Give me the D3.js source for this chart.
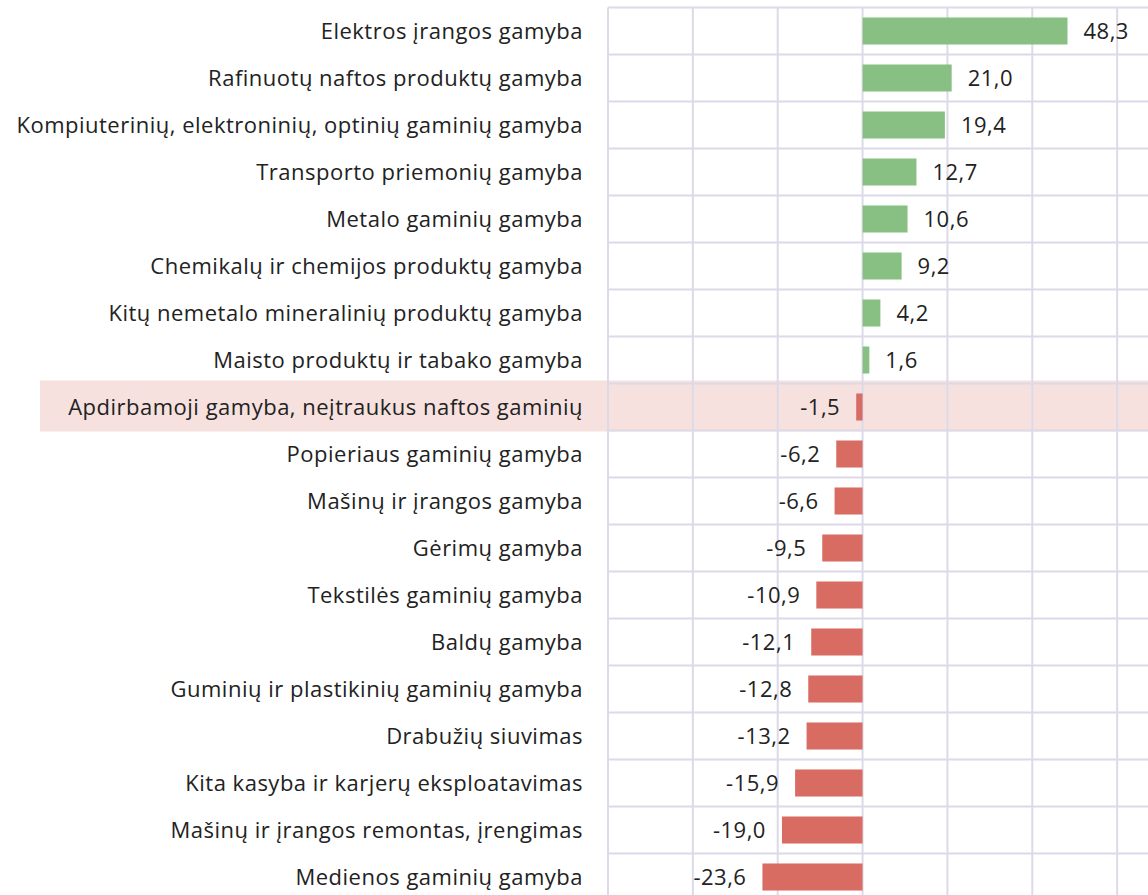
<!DOCTYPE html>
<html>
<head>
<meta charset="utf-8">
<script src="https://cdn.jsdelivr.net/npm/d3@7"></script>
<style>
  html, body { margin: 0; padding: 0; background: #fff; }
  svg { display: block; }
  text { font-family: "Open Sans", "Noto Sans", sans-serif; fill: #222; letter-spacing: 0.5px; }
</style>
</head>
<body>
<svg id="chart" width="1148" height="895"></svg>
<script>
// categories, top to bottom
var categories = [
  'Elektros įrangos gamyba',
  'Rafinuotų naftos produktų gamyba',
  'Kompiuterinių, elektroninių, optinių gaminių gamyba',
  'Transporto priemonių gamyba',
  'Metalo gaminių gamyba',
  'Chemikalų ir chemijos produktų gamyba',
  'Kitų nemetalo mineralinių produktų gamyba',
  'Maisto produktų ir tabako gamyba',
  'Apdirbamoji gamyba, neįtraukus naftos gaminių',
  'Popieriaus gaminių gamyba',
  'Mašinų ir įrangos gamyba',
  'Gėrimų gamyba',
  'Tekstilės gaminių gamyba',
  'Baldų gamyba',
  'Guminių ir plastikinių gaminių gamyba',
  'Drabužių siuvimas',
  'Kita kasyba ir karjerų eksploatavimas',
  'Mašinų ir įrangos remontas, įrengimas',
  'Medienos gaminių gamyba'
]
var values = [48.3, 21.0, 19.4, 12.7, 10.6, 9.2, 4.2, 1.6, -1.5, -6.2, -6.6, -9.5, -10.9, -12.1, -12.8, -13.2, -15.9, -19.0, -23.6]
var highlighted = ['Apdirbamoji gamyba, neįtraukus naftos gaminių']
var gridTicks = [-60, -40, -20, 0, 20, 40, 60, 80]

var svg = d3.select('#chart')
var W = 1148, H = 895

var x = d3.scaleLinear().domain([-60, 80]).range([608, 1202])
var y = d3.scaleBand().domain(categories).range([7.5, 900.5]).paddingInner(0.425).paddingOuter(0.2125)
var step = y.step()

var lt = d3.formatLocale({decimal: ',', thousands: ' ', grouping: [3], currency: ['', ''], minus: '-'})
var fmt = lt.format('.1f')

/** highlight band under the grid */
svg.selectAll('rect.hl').data(highlighted).enter().append('rect')
  .attr('class', 'hl')
  .attr('x', 40).attr('width', W - 40)
  .attr('y', function (d) { return y(d) - y.paddingOuter() * step - 3 })
  .attr('height', step + 4)
  .style('fill', '#f6e1df')

/** grid */
var grid = svg.append('g').style('stroke', '#dcdae9').style('stroke-width', 2)
grid.selectAll('line.v').data(gridTicks).enter().append('line')
  .attr('class', 'v')
  .attr('x1', function (d) { return x(d) }).attr('x2', function (d) { return x(d) })
  .attr('y1', y.range()[0]).attr('y2', H)
var rows = d3.range(categories.length + 1)
grid.selectAll('line.h').data(rows).enter().append('line')
  .attr('class', 'h')
  .attr('x1', x(-60)).attr('x2', W)
  .attr('y1', function (i) { return y.range()[0] + i * step })
  .attr('y2', function (i) { return y.range()[0] + i * step })

/** bars */
svg.selectAll('rect.bar').data(values).enter().append('rect')
  .attr('class', 'bar')
  .attr('x', function (d) { return x(Math.min(0, d)) })
  .attr('width', function (d) { return Math.abs(x(d) - x(0)) })
  .attr('y', function (d, i) { return y(categories[i]) })
  .attr('height', y.bandwidth())
  .style('fill', function (d) { return d >= 0 ? '#88c083' : '#d86c63' })

/** value labels */
svg.selectAll('text.val').data(values).enter().append('text')
  .attr('class', 'val')
  .attr('x', function (d) { return d >= 0 ? x(d) + 16 : x(d) - 16 })
  .attr('y', function (d, i) { return y(categories[i]) + y.bandwidth() / 2 })
  .attr('dy', '0.35em')
  .attr('text-anchor', function (d) { return d >= 0 ? 'start' : 'end' })
  .style('font-size', '22px')
  .text(function (d) { return fmt(d) })

/** category labels */
svg.selectAll('text.cat').data(categories).enter().append('text')
  .attr('class', 'cat')
  .attr('x', 583)
  .attr('y', function (d) { return y(d) + y.bandwidth() / 2 })
  .attr('dy', '0.35em')
  .attr('text-anchor', 'end')
  .style('font-size', '22px')
  .text(function (d) { return d })
</script>
</body>
</html>
